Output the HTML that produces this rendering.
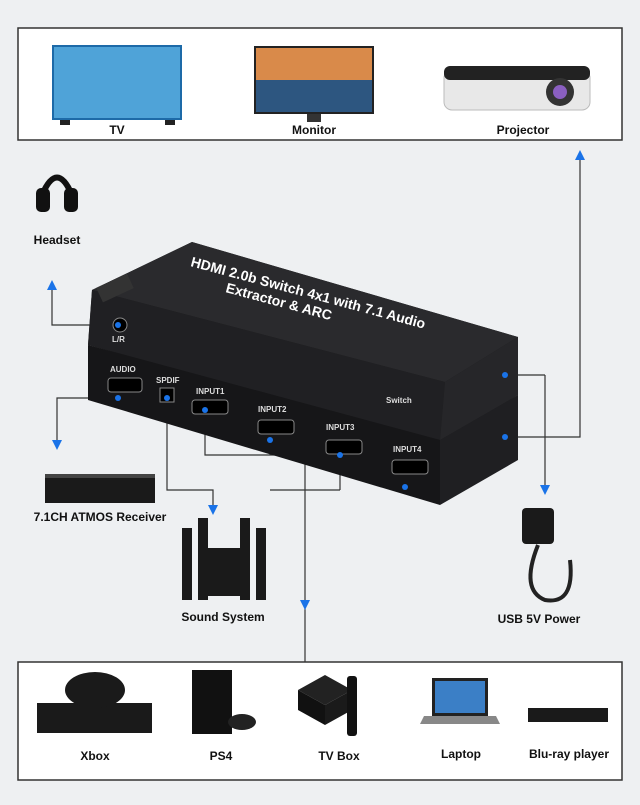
<!DOCTYPE html>
<html><head><meta charset="utf-8"><style>
body{margin:0;width:640px;height:800px;background:#eef0f2;font-family:"Liberation Sans",sans-serif;overflow:hidden}
</style></head><body>
<svg width="640" height="800" viewBox="0 0 640 800" xmlns="http://www.w3.org/2000/svg" font-family="Liberation Sans, sans-serif">
<rect x="0" y="0" width="640" height="800" fill="#eef0f2"/>
<rect x="18" y="28" width="604" height="112" fill="#fff" stroke="#333" stroke-width="1.5"/>
<rect x="18" y="662" width="604" height="118" fill="#fff" stroke="#333" stroke-width="1.5"/>
<!-- TV -->
<rect x="52" y="45" width="130" height="75" fill="#1d6aa8"/><rect x="54" y="47" width="126" height="71" fill="#4fa3d8"/>
<rect x="60" y="120" width="10" height="5" fill="#222"/><rect x="165" y="120" width="10" height="5" fill="#222"/>
<!-- Monitor -->
<rect x="254" y="46" width="120" height="68" fill="#222"/><rect x="256" y="48" width="116" height="64" fill="#d98a4a"/>
<rect x="256" y="80" width="116" height="32" fill="#2d5680"/>
<rect x="307" y="114" width="14" height="8" fill="#333"/>
<!-- Projector -->
<rect x="444" y="70" width="146" height="40" rx="8" fill="#e8e8e8" stroke="#bbb"/><rect x="444" y="66" width="146" height="14" rx="6" fill="#222"/>
<circle cx="560" cy="92" r="14" fill="#333"/><circle cx="560" cy="92" r="7" fill="#8a5fc0"/>
<g font-size="12" font-weight="bold" fill="#111" text-anchor="middle">
<text x="117" y="134">TV</text><text x="314" y="134">Monitor</text><text x="523" y="134">Projector</text>
<text x="57" y="244">Headset</text><text x="100" y="521">7.1CH ATMOS Receiver</text>
<text x="223" y="621">Sound System</text><text x="539" y="623">USB 5V Power</text>
<text x="95" y="760">Xbox</text><text x="221" y="760">PS4</text><text x="339" y="760">TV Box</text>
<text x="461" y="758">Laptop</text><text x="569" y="758">Blu-ray player</text></g>
<!-- headset -->
<path d="M42 195 Q57 160 72 195" stroke="#111" stroke-width="6" fill="none"/>
<rect x="36" y="188" width="14" height="24" rx="5" fill="#111"/><rect x="64" y="188" width="14" height="24" rx="5" fill="#111"/>
<!-- connector lines -->
<g stroke="#333" stroke-width="1.2" fill="none">
<path d="M52 290 V325 H118"/>
<path d="M580 160 V437 H505"/>
<path d="M545 375 H505 M545 375 V485"/>
<path d="M118 398 H57 V440"/>
<path d="M167 398 V490 H213 V505"/>
<path d="M205 410 V455 H405 V485 M270 440 V455 M340 455 V490 M405 455 V490 M340 490 H270 M305 455 V662"/>
</g>
<g fill="#1a73e8">
<path d="M52 280 l-5 10 h10z"/><path d="M580 150 l-5 10 h10z"/><path d="M545 495 l-5 -10 h10z"/>
<path d="M57 450 l-5 -10 h10z"/><path d="M213 515 l-5 -10 h10z"/><path d="M305 610 l-5 -10 h10z"/>
</g>
<!-- switch device -->
<polygon points="88,345 92,290 192,242 518,337 518,395 440,445" fill="#1c1c1e"/>
<polygon points="92,290 192,242 518,337 445,382" fill="#2a2a2d"/>
<polygon points="92,290 445,382 440,440 88,345" fill="#202023"/>
<polygon points="88,345 440,440 440,505 88,400" fill="#161618"/>
<polygon points="440,440 518,395 518,460 440,505" fill="#1f1f22"/>
<polygon points="445,382 518,337 518,395 440,440" fill="#262629"/>
<g fill="#fff" font-weight="bold" font-size="14">
<text transform="translate(190,266) rotate(15)">HDMI 2.0b Switch 4x1 with 7.1 Audio</text>
<text transform="translate(225,292) rotate(15)">Extractor &amp; ARC</text></g>
<rect x="98" y="280" width="34" height="16" fill="#333" transform="rotate(-25 115 288)"/>
<g fill="#ddd" font-size="8" font-weight="bold"><text x="110" y="372">AUDIO</text><text x="156" y="383">SPDIF</text><text x="196" y="394">INPUT1</text><text x="258" y="412">INPUT2</text><text x="326" y="430">INPUT3</text><text x="393" y="452">INPUT4</text><text x="386" y="403">Switch</text><text x="112" y="342">L/R</text></g>
<g fill="#000" stroke="#888"><rect x="108" y="378" width="34" height="14" rx="3"/><rect x="192" y="400" width="36" height="14" rx="3"/><rect x="258" y="420" width="36" height="14" rx="3"/><rect x="326" y="440" width="36" height="14" rx="3"/><rect x="392" y="460" width="36" height="14" rx="3"/><rect x="160" y="388" width="14" height="14"/><circle cx="120" cy="325" r="7"/></g>
<g fill="#1a73e8"><circle cx="118" cy="398" r="3"/><circle cx="167" cy="398" r="3"/><circle cx="205" cy="410" r="3"/><circle cx="270" cy="440" r="3"/><circle cx="340" cy="455" r="3"/><circle cx="405" cy="487" r="3"/><circle cx="505" cy="375" r="3"/><circle cx="505" cy="437" r="3"/><circle cx="118" cy="325" r="3"/></g>
<!-- receiver -->
<rect x="45" y="475" width="110" height="28" fill="#1a1a1a"/><rect x="45" y="474" width="110" height="4" fill="#444"/>
<!-- sound system -->
<g fill="#1a1a1a"><rect x="182" y="528" width="10" height="72"/><rect x="198" y="518" width="10" height="82"/><rect x="240" y="518" width="10" height="82"/><rect x="256" y="528" width="10" height="72"/><rect x="206" y="548" width="36" height="48"/></g>
<!-- usb power -->
<rect x="522" y="508" width="32" height="36" rx="4" fill="#1a1a1a"/>
<path d="M538 545 Q520 590 545 600 Q575 605 570 560" stroke="#222" stroke-width="4" fill="none"/>
<!-- bottom devices -->
<rect x="37" y="703" width="115" height="30" fill="#1a1a1a"/><ellipse cx="95" cy="690" rx="30" ry="18" fill="#1a1a1a"/>
<rect x="192" y="670" width="40" height="64" fill="#111"/><ellipse cx="242" cy="722" rx="14" ry="8" fill="#222"/>
<polygon points="298,690 325,675 352,690 325,705" fill="#222"/><polygon points="298,690 325,705 325,725 298,710" fill="#111"/><polygon points="325,705 352,690 352,710 325,725" fill="#1a1a1a"/><rect x="347" y="676" width="10" height="60" rx="3" fill="#111"/>
<rect x="432" y="678" width="56" height="38" fill="#222"/><rect x="435" y="681" width="50" height="32" fill="#3b7fc6"/><polygon points="424,716 496,716 500,724 420,724" fill="#888"/>
<rect x="528" y="708" width="80" height="14" fill="#1a1a1a"/>
</svg>
</body></html>
